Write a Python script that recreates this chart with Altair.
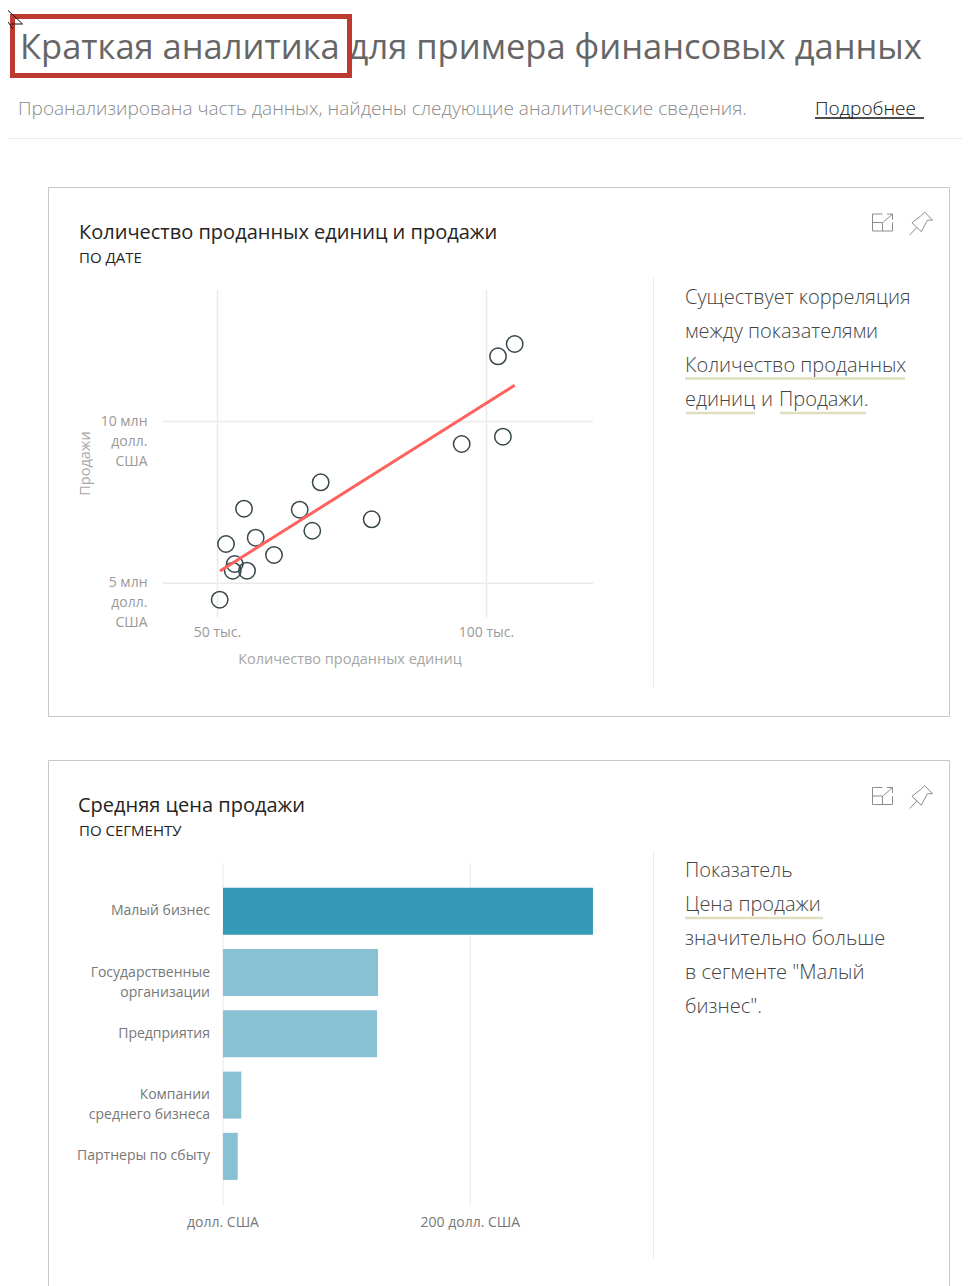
import altair as alt
import pandas as pd

# ---- data ----
units = [50410, 52830, 53200, 55480, 51580, 57100, 60500, 54930, 65280, 67620, 69180, 78660, 95390, 103050, 102140, 105240]
sales = [4493000, 5389000, 5596000, 5389000, 6214000, 6409000, 5875000, 7305000, 7274000, 6625000, 8121000, 6978000, 9305000, 9530000, 12015000, 12395000]
trend_units = [50460, 105240]
trend_sales = [5380000, 11120000]
units_ticks = [50000, 100000]
units_tick_labels = ["50 тыс.", "100 тыс."]
sales_ticks = [5000000, 10000000]
sales_tick_labels = ["5 млн\nдолл.\nСША", "10 млн\nдолл.\nСША"]

segments = ["Малый бизнес", "Государственные\nорганизации", "Предприятия", "Компании\nсреднего бизнеса", "Партнеры по сбыту"]
prices = [299.2, 125.4, 124.6, 14.8, 11.9]
price_ticks = [0, 200]
price_tick_labels = ["долл. США", "200 долл. США"]

FONT = "Open Sans"
GRID = "#eaeaea"
O = 8  # page margin


def text(s, x, y, size, color, align="left", weight=400, font=FONT, angle=None):
    kw = dict(text=s, fontSize=size, color=color, align=align, baseline="alphabetic", font=font, fontWeight=weight)
    if angle is not None:
        kw["angle"] = angle
    return alt.Chart().mark_text(**kw).encode(x=alt.value(x - O), y=alt.value(y - O))


def hline(x1, x2, y, color=GRID, w=1):
    return alt.Chart().mark_rule(color=color, strokeWidth=w).encode(
        x=alt.value(x1 - O), x2=alt.value(x2 - O), y=alt.value(y - O))


def vline(x, y1, y2, color=GRID, w=1):
    return alt.Chart().mark_rule(color=color, strokeWidth=w).encode(
        x=alt.value(x - O), y=alt.value(y1 - O), y2=alt.value(y2 - O))


def glyph(path, x, y, half, color="#8c8c8c", w=1):
    return alt.Chart().mark_point(shape=path, size=(2 * half) ** 2, filled=False, stroke=color,
                                  strokeWidth=w, opacity=1).encode(
        x=alt.value(x - O), y=alt.value(y - O))


EXPAND = "M0,-.85H-1V.85H1V0M-1,0H0V.85M.1,-.05L1,-.85M.45,-.85H1V-.3"
PIN = "M.32,-1L1,-.29L.56,-.29L.03,.71L-.79,-.06L-.03,-.65ZM-.35,.35L-1,1"
CURSOR = "M-1,-1.2L-.35,-.65L.75,.4H-.35M-1.1,.6L-.7,.2L-.2,.9"

layers = []

# ---- header ----
layers += [
    text("Краткая аналитика для примера финансовых данных", 20, 59, 34.5, "#666666"),
    alt.Chart().mark_rect(fill=None, stroke="#be3a31", strokeWidth=5).encode(
        x=alt.value(12.5 - O), x2=alt.value(349.5 - O), y=alt.value(16.5 - O), y2=alt.value(75.5 - O)),
    glyph(CURSOR, 15, 20, 10, color="#111111"),
    text("Проанализирована часть данных, найдены следующие аналитические сведения.", 18, 115, 19, "#8a8a8a", weight=300),
    text("Подробнее", 815, 115, 19, "#111111", weight=300),
    hline(815, 924, 118, color="#111111", w=1.5),
    hline(2, 962, 138.5),
]

# ---- cards ----
BORDER = "#c8c8c8"
layers += [
    alt.Chart().mark_rect(fill=None, stroke=BORDER, strokeWidth=1).encode(
        x=alt.value(48.5 - O), x2=alt.value(949.5 - O), y=alt.value(187.5 - O), y2=alt.value(716.5 - O)),
    hline(48.5, 949.5, 760.5, color=BORDER),
    vline(48.5, 760.5, 1290, color=BORDER),
    vline(949.5, 760.5, 1290, color=BORDER),
    vline(653.5, 278, 687),
    vline(653.5, 851, 1258),
    glyph(EXPAND, 882.5, 222.5, 10), glyph(PIN, 921, 223.5, 11.5),
    glyph(EXPAND, 882.5, 796, 10), glyph(PIN, 921, 797, 11.5),
    text("Количество проданных единиц и продажи", 79, 239, 20, "#252423"),
    text("ПО ДАТЕ", 79, 263, 15, "#252423"),
    text("Средняя цена продажи", 78, 812, 20, "#252423"),
    text("ПО СЕГМЕНТУ", 79, 836, 15, "#252423"),
]

# ---- insight texts ----
BODY = "#444444"
for s, y in [("Существует корреляция", 304), ("между показателями", 338),
             ("Количество проданных", 372), ("единиц", 406), ]:
    layers.append(text(s, 685, y, 20, BODY, weight=300))
layers.append(text("и", 761, 406, 20, BODY, weight=300))
layers.append(text("Продажи.", 779, 406, 20, BODY, weight=300))
for s, y in [("Показатель", 877), ("Цена продажи", 911), ("значительно больше", 945),
             ('в сегменте "Малый', 979), ('бизнес".', 1013)]:
    layers.append(text(s, 685, y, 20, BODY, weight=300))
ULINE = "#dfdfc0"
layers += [hline(685, 905, 378.5, ULINE, 2.5), hline(686, 755, 413, ULINE, 2.5),
           hline(780, 866, 413, ULINE, 2.5), hline(685, 823, 918, ULINE, 2.5)]

# ---- scatter ----
xs = alt.Scale(type="linear", domain=[50000, 100000], range=[217.5 - O, 486.5 - O])
ys = alt.Scale(type="linear", domain=[5000000, 10000000], range=[583.3 - O, 421.5 - O])
xt = pd.DataFrame({"v": units_ticks, "t": units_tick_labels})
yt = pd.DataFrame({"v": sales_ticks, "t": sales_tick_labels})
pts = pd.DataFrame({"units": units, "sales": sales})
tr = pd.DataFrame({"units": trend_units, "sales": trend_sales})
X = lambda f, s: alt.X(f, type="quantitative", scale=s, axis=None)
Y = lambda f, s: alt.Y(f, type="quantitative", scale=s, axis=None)

layers += [
    alt.Chart(xt).mark_rule(color=GRID, strokeWidth=1.5).encode(
        x=X("v", xs), y=alt.value(290 - O), y2=alt.value(617 - O)),
    alt.Chart(yt).mark_rule(color=GRID, strokeWidth=1.5).encode(
        y=Y("v", ys), x=alt.value(163 - O), x2=alt.value(593 - O)),
    alt.Chart(xt).mark_text(font=FONT, fontSize=14, color="#999999", baseline="alphabetic").encode(
        x=X("v", xs), y=alt.value(637 - O), text="t:N"),
    alt.Chart(yt).mark_text(font=FONT, fontSize=14, color="#999999", align="right", baseline="middle",
                            lineBreak="\n", lineHeight=20).encode(
        y=Y("v", ys), x=alt.value(147.5 - O), text="t:N"),
    text("Количество проданных единиц", 350, 664, 14.5, "#a6a6a6", align="center"),
    text("Продажи", 90, 463.5, 14.5, "#a6a6a6", align="center", angle=270),
    alt.Chart(pts).mark_point(shape="circle", size=270, filled=False, stroke="#374649", strokeWidth=1.5,
                              opacity=1).encode(x=X("units", xs), y=Y("sales", ys)),
    alt.Chart(tr).mark_line(color="#fd625e", strokeWidth=3).encode(x=X("units", xs), y=Y("sales", ys)),
]

# ---- bars ----
bx = alt.Scale(type="linear", domain=[0, 200], range=[223 - O, 470.3 - O])
by = alt.Scale(type="band", domain=segments, range=[880.55 - O, 1187.05 - O], paddingInner=0.233, paddingOuter=0.117)
bars = pd.DataFrame({"seg": segments, "price": prices, "top": [True, False, False, False, False]})
pt = pd.DataFrame({"v": price_ticks, "t": price_tick_labels})
layers += [
    alt.Chart(pt).mark_rule(color=GRID, strokeWidth=1).encode(
        x=X("v", bx), y=alt.value(863 - O), y2=alt.value(1206 - O)),
    alt.Chart(bars).mark_bar(orient="horizontal").encode(
        y=alt.Y("seg:N", scale=by, axis=None),
        x=X("price", bx),
        color=alt.condition("datum.top", alt.value("#3599b8"), alt.value("#89c1d4"))),
    alt.Chart(bars).mark_text(font=FONT, fontSize=14, color="#777777", align="right", baseline="middle",
                              lineBreak="\n", lineHeight=20).encode(
        y=alt.Y("seg:N", scale=by, axis=None), x=alt.value(210 - O), text="seg:N"),
    alt.Chart(pt).mark_text(font=FONT, fontSize=14, color="#777777", baseline="alphabetic").encode(
        x=X("v", bx), y=alt.value(1227 - O), text="t:N"),
]

chart = alt.layer(*layers).resolve_scale(x="independent", y="independent", color="independent").properties(
    width=963, height=1278, padding=0, autosize="none", background="white"
).configure_view(stroke=None)

chart.save("out.html", embed_options={"renderer": "svg", "actions": False})
